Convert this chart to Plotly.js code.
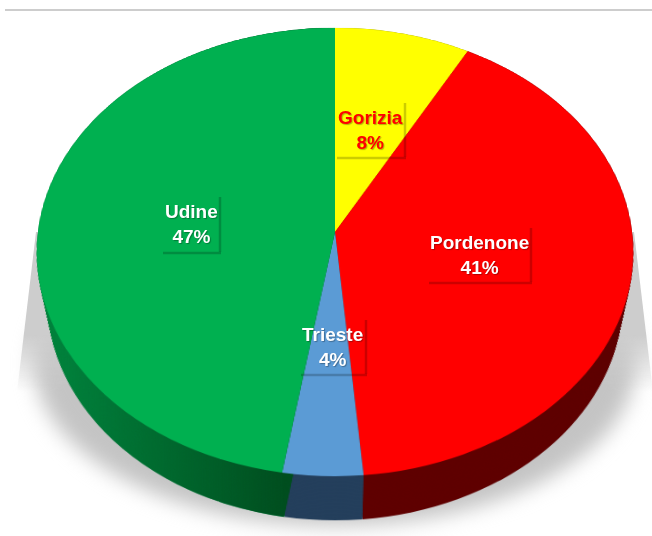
<!DOCTYPE html>
<html>
<head>
<meta charset="utf-8">
<script src="https://cdn.plot.ly/plotly-3.0.1.min.js"></script>
<style>
html,body{margin:0;padding:0;background:#fff;width:652px;height:536px;overflow:hidden}
#stage{position:absolute;left:0;top:0;width:652px;height:536px;overflow:hidden;filter:blur(0.4px)}
.full{position:absolute;left:0;top:0;width:652px;height:536px}
.tilt{position:absolute;width:720px;height:720px;left:-25px;top:-128px;transform:perspective(2204px) rotateX(41.5deg);transform-origin:50% 50%}
#shadowA{position:absolute;left:0;top:0;width:652px;height:536px;background:#cdcdcd;clip-path:polygon(36px 232px,634px 232px,653px 392px,17px 392px);-webkit-mask-image:linear-gradient(to bottom,black 335px,transparent 392px);mask-image:linear-gradient(to bottom,black 335px,transparent 392px)}
#shadowB{position:absolute;left:34px;top:200px;width:602px;height:326px;border-radius:50%;background:#c4c4c4;filter:blur(10px)}
#wallShade{-webkit-mask-image:linear-gradient(to right,transparent 45px,black 282px);mask-image:linear-gradient(to right,transparent 45px,black 282px)}
</style>
</head>
<body>
<div id="stage">
  <div id="shadowB"></div>
  <div id="shadowA"></div>
  <div class="full"><div id="wall" class="tilt"></div></div>
  <div class="full" id="wallShade"><div id="wallDark" class="tilt"></div></div>
  <div class="full"><div id="top" class="tilt"></div></div>
  <div class="full" id="labels"></div>
</div>
<script>
var categories = ["Gorizia", "Pordenone", "Trieste", "Udine"];
var values = [8.0, 40.6, 4.0, 47.4];
var percentLabels = ["8%", "41%", "4%", "47%"];
var topColors = ["#FFFF00", "#FF0000", "#5B9BD5", "#00B050"];
var wallColors = ["#7F7F00", "#5F0000", "#243F5C", "#00853F"];
var wallDarkColors = ["rgba(0,0,0,0)", "rgba(0,0,0,0)", "rgba(0,0,0,0)", "#004F20"];
var labelColors = ["#FF0000", "#FFFFFF", "#FFFFFF", "#FFFFFF"];
var labelX = [370, 479, 332, 191];
var labelY = [130, 255, 347, 224];
var boxLeft = [337, 429, 301, 163];
var boxRight = [405, 531, 366, 220];
var boxTop = [103, 228, 320, 197];
var boxBottom = [158, 283, 375, 253];

var SIZE = 720, R0 = 297, R1 = 281, SHIFT = 64, LAYERS = 36;
function slice(colors, r, dy) {
  return {
    type: "pie", labels: categories, values: values, sort: false,
    direction: "clockwise", rotation: 0, textinfo: "none", hoverinfo: "none",
    showlegend: false, marker: {colors: colors, line: {width: 0}},
    domain: {
      x: [0.5 - r / SIZE, 0.5 + r / SIZE],
      y: [0.5 - dy / SIZE - r / SIZE, 0.5 - dy / SIZE + r / SIZE]
    }
  };
}
function stack(colors) {
  var t = [];
  for (var i = LAYERS; i >= 0; i--) {
    var f = i / LAYERS;
    t.push(slice(colors, R0 + (R1 - R0) * f, SHIFT * f));
  }
  return t;
}
var pieLayout = {
  width: SIZE, height: SIZE, margin: {l: 0, r: 0, t: 0, b: 0},
  paper_bgcolor: "rgba(0,0,0,0)", plot_bgcolor: "rgba(0,0,0,0)", showlegend: false
};
var cfg = {staticPlot: true, displayModeBar: false};
Plotly.newPlot("wall", stack(wallColors), pieLayout, cfg);
Plotly.newPlot("wallDark", stack(wallDarkColors), pieLayout, cfg);
Plotly.newPlot("top", [slice(topColors, R0, 0)], pieLayout, cfg);

var annotations = [], shapes = [];
var shadowLine = {color: "rgba(0,0,0,0.2)", width: 2.5};
categories.forEach(function (name, i) {
  annotations.push({
    x: labelX[i], y: labelY[i], xref: "x", yref: "y", showarrow: false,
    text: name + "<br>" + percentLabels[i], align: "center",
    font: {family: "Liberation Sans, Arial, sans-serif", size: 19, color: labelColors[i],
           weight: 700, shadow: "1px 1px 1px rgba(0,0,0,0.3)"}
  });
  shapes.push({type: "line", xref: "x", yref: "y", x0: boxLeft[i], x1: boxRight[i] + 1, y0: boxBottom[i], y1: boxBottom[i], line: shadowLine});
  shapes.push({type: "line", xref: "x", yref: "y", x0: boxRight[i], x1: boxRight[i], y0: boxTop[i], y1: boxBottom[i] - 1, line: shadowLine});
});
shapes.push({type: "line", xref: "x", yref: "y", x0: 5, x1: 652, y0: 10, y1: 10, line: {color: "#BDBDBD", width: 1.5}});
Plotly.newPlot("labels", [], {
  width: 652, height: 536, margin: {l: 0, r: 0, t: 0, b: 0},
  paper_bgcolor: "rgba(0,0,0,0)", plot_bgcolor: "rgba(0,0,0,0)",
  xaxis: {range: [0, 652], visible: false, fixedrange: true},
  yaxis: {range: [536, 0], visible: false, fixedrange: true},
  annotations: annotations, shapes: shapes
}, cfg);
</script>
</body>
</html>
